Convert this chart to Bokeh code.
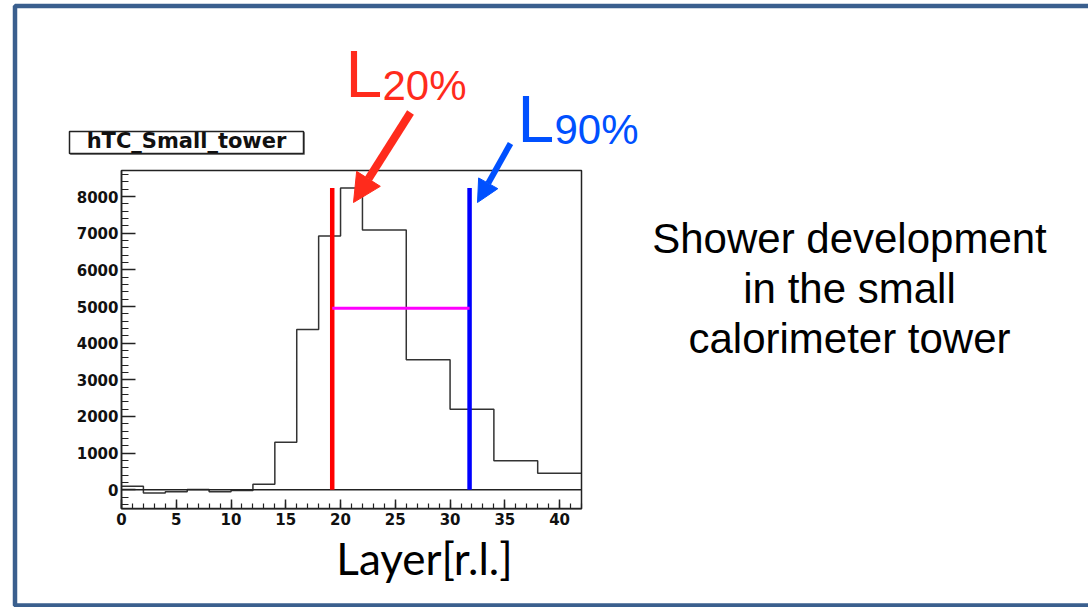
import numpy as np
from bokeh.plotting import figure
from bokeh.models import (Label, Arrow, NormalHead, PolyAnnotation,
                          FixedTicker, Range1d)
from bokeh.embed import file_html
from bokeh.resources import INLINE

# ---------------- data ----------------
bin_edges = [0, 2, 4, 6, 8, 10, 12, 14, 16, 18, 20, 22, 26, 30, 34, 38, 42]
bin_counts = [100, -90, -50, 10, -50, -20, 150, 1300, 4370, 6920, 8230,
              7090, 3550, 2200, 790, 450]
hist_title = "hTC_Small_tower"
x_label = "Layer[r.l.]"
x_ticks = [0, 5, 10, 15, 20, 25, 30, 35, 40]
y_ticks = [0, 1000, 2000, 3000, 4000, 5000, 6000, 7000, 8000]
L20 = 19.24          # 20% containment layer
L90 = 31.78          # 90% containment layer
marker_top = 8230
width_level = 4950
description = ["Shower development", "in the small", "calorimeter tower"]

RED = "#FF2B1C"
BLUE = "#0050FF"
FRAME_BLUE = "#3A5F8E"

# ---------------- geometry ----------------
W, H = 1088, 607
FL, FR, FT, FB = 121.0, 581.0, 170.0, 508.3     # histogram frame (page px)
XMIN, XMAX = 0, 42
YMIN, YMAX = -518, 8710
kx = (FR - FL) / (XMAX - XMIN)
ky = (FB - FT) / (YMAX - YMIN)

p = figure(width=W, height=H,
           x_range=Range1d(XMIN - FL / kx, XMAX + (W - FR) / kx),
           y_range=Range1d(YMIN - (H - FB) / ky, YMAX + FT / ky),
           output_backend="svg", toolbar_location=None, min_border=0)
p.grid.visible = False
p.background_fill_color = "white"
p.border_fill_color = "white"
p.outline_line_color = None

def sx(x):
    return x
def sy(y):
    return H - y

# axes (fixed at histogram frame edges)
for ax in (p.xaxis[0], p.yaxis[0]):
    ax.axis_line_color = "#222222"
    ax.axis_line_width = 1.5
    ax.major_tick_line_color = "#222222"
    ax.major_tick_line_width = 1.5
    ax.minor_tick_line_color = "#222222"
    ax.minor_tick_line_width = 1.2
    ax.major_tick_out = 0
    ax.minor_tick_out = 0
    ax.major_label_text_font = "DejaVu Sans"
    ax.major_label_text_font_style = "bold"
    ax.major_label_text_font_size = "15px"
    ax.major_label_text_color = "#111111"

p.xaxis.fixed_location = YMIN
p.xaxis.bounds = (XMIN, XMAX)
p.xaxis.ticker = FixedTicker(ticks=x_ticks, minor_ticks=list(range(0, 43)))
p.xaxis.major_tick_in = 9
p.xaxis.minor_tick_in = 5
p.xaxis.major_label_standoff = 4

p.yaxis.fixed_location = XMIN
p.yaxis.bounds = (YMIN, YMAX)
p.yaxis.ticker = FixedTicker(ticks=y_ticks, minor_ticks=list(range(-400, 8701, 200)))
p.yaxis.major_tick_in = 14
p.yaxis.minor_tick_in = 7
p.yaxis.major_label_standoff = 3

# histogram frame box
p.add_layout(PolyAnnotation(xs=[XMIN, XMAX, XMAX, XMIN], ys=[YMIN, YMIN, YMAX, YMAX],
                            fill_alpha=0, line_color="#222222", line_alpha=1,
                            line_width=1.5))

# histogram outline
xs = np.repeat(bin_edges, 2)[1:-1]
ys = np.repeat(bin_counts, 2)
p.line(xs, ys, line_color="#333333", line_width=1.5)

# zero line
p.segment(x0=[XMIN], y0=[0], x1=[XMAX], y1=[0], line_color="#222222", line_width=1.5)

# L20 / L90 markers
p.segment(x0=[L20, L90], y0=[0, 0], x1=[L20, L90], y1=[marker_top, marker_top],
          line_color=["#FF0000", "#0000FF"], line_width=4.5)
p.segment(x0=[L20], y0=[width_level], x1=[L90], y1=[width_level],
          line_color="#FF00FF", line_width=3)

# outer slide border
p.add_layout(PolyAnnotation(xs=[sx(14.5), sx(1300), sx(1300), sx(14.5)],
                            ys=[sy(5.5), sy(5.5), sy(605), sy(605)],
                            xs_units="screen", ys_units="screen",
                            fill_alpha=0, line_color=FRAME_BLUE, line_alpha=1,
                            line_width=4.5))

# histogram title box (with a faint ROOT-like shadow)
p.add_layout(PolyAnnotation(xs=[sx(70), sx(304), sx(304), sx(70)],
                            ys=[sy(132), sy(132), sy(154), sy(154)],
                            xs_units="screen", ys_units="screen",
                            fill_color="#888888", fill_alpha=1,
                            line_color="#888888", line_alpha=1, line_width=1))
p.add_layout(PolyAnnotation(xs=[sx(69), sx(303), sx(303), sx(69)],
                            ys=[sy(131), sy(131), sy(153), sy(153)],
                            xs_units="screen", ys_units="screen",
                            fill_color="white", fill_alpha=1,
                            line_color="#222222", line_alpha=1, line_width=1.5))

BASE_SHIFT = 0.37   # empirical baseline correction (fraction of font size)

def lab(x, y, t, size, color, font="Liberation Sans", align="left", style="normal"):
    y_adj = y - BASE_SHIFT * size
    p.add_layout(Label(x=sx(x), y=sy(y_adj), x_units="screen", y_units="screen",
                       text=t, text_align=align, text_baseline="alphabetic",
                       text_font=font, text_font_size=f"{size}px",
                       text_font_style=style, text_color=color))

lab(186, 148, hist_title, 21, "#111111", font="DejaVu Sans", align="center", style="bold")

# L labels
lab(345, 98, "L", 66, RED)
lab(382, 100.5, "20%", 42, RED)
lab(517, 143, "L", 66, BLUE)
lab(554, 145, "90%", 42, BLUE)

# arrows
p.add_layout(Arrow(x_start=sx(410), y_start=sy(112), x_end=sx(353), y_end=sy(202),
                   start_units="screen", end_units="screen",
                   line_color=RED, line_width=8,
                   end=NormalHead(size=28, fill_color=RED, line_color=RED, line_width=1)))
p.add_layout(Arrow(x_start=sx(510), y_start=sy(143), x_end=sx(477), y_end=sy(202),
                   start_units="screen", end_units="screen",
                   line_color=BLUE, line_width=6,
                   end=NormalHead(size=22, fill_color=BLUE, line_color=BLUE, line_width=1)))

# description text
for i, line in enumerate(description):
    lab(849, 253.3 + 50 * i, line, 42, "#000000", align="center")

# x label
lab(424, 574, x_label, 44, "#000000", font="Lato", align="center")

open("out.html", "w").write(file_html(p, INLINE))
